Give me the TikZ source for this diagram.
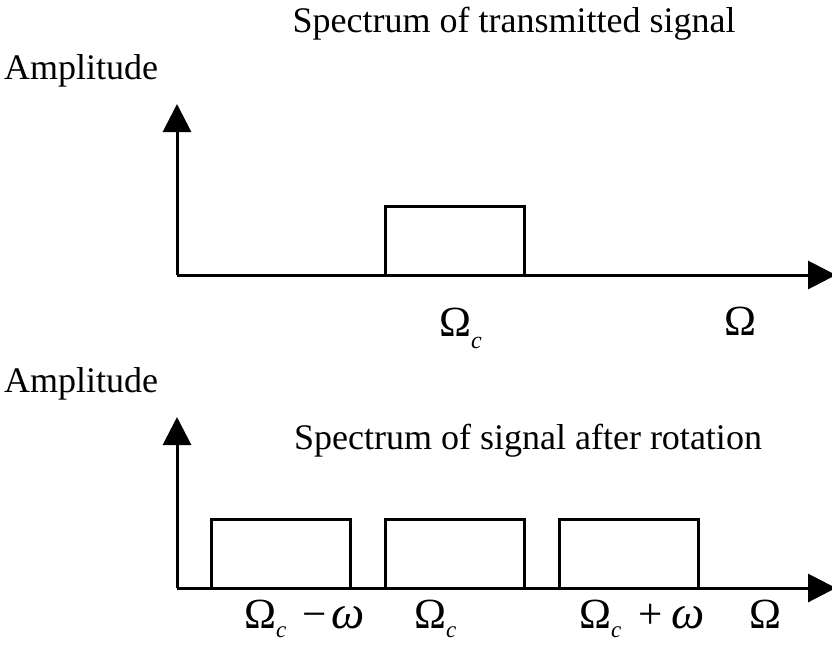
\documentclass[tikz,border=0pt]{standalone}
\usepackage{fontspec}
\setmainfont{Liberation Serif}
\usetikzlibrary{arrows.meta}
\newcommand{\subc}{\raisebox{-0.28em}{\fontsize{24}{26}\selectfont\itshape c}}
\newcommand{\subcb}{\raisebox{-0.22em}{\fontsize{23}{26}\selectfont\itshape c}}
\newcommand{\omg}{{\fontsize{47}{50}\selectfont\itshape ω}}
\begin{document}
\begin{tikzpicture}[x=1pt,y=-1pt,
  ax/.style={line width=3pt,-{Triangle[length=28pt,width=28pt]}},
  band/.style={draw,line width=3pt},
  lbl/.style={font=\fontsize{36}{40}\selectfont,inner sep=0pt},
  sym/.style={font=\fontsize{43}{46}\selectfont,inner sep=0pt}]
\useasboundingbox (0,0) rectangle (832,645);
% top
\node[lbl] (t1) at (514,24) {Spectrum of transmitted signal};
\node[lbl] (a1) at (81,71) {Amplitude};
\coordinate (o1) at (177,275);
\coordinate (y1) at (177,104);
\coordinate (x1) at (836,275);
\draw[ax] (o1) -- (y1);
\draw[ax] (o1) -- (x1);
\draw[band] (385,275) rectangle (524,206);
\node[sym,anchor=base west] (w1) at (439,336) {Ω\subc};
\node[sym,anchor=base west] (W1) at (724,335) {Ω};
% bottom
\node[lbl] (a2) at (81,384) {Amplitude};
\node[lbl] (t2) at (528,441) {Spectrum of signal after rotation};
\coordinate (o2) at (177,588);
\coordinate (y2) at (177,417);
\coordinate (x2) at (836,588);
\draw[ax] (o2) -- (y2);
\draw[ax] (o2) -- (x2);
\draw[band] (211,588) rectangle (350,519);
\draw[band] (385,588) rectangle (524,519);
\draw[band] (559,588) rectangle (698,519);
\node[sym,anchor=base west] (w2) at (244,628) {Ω\subcb\hspace{16pt}−\hspace{5pt}\omg};
\node[sym,anchor=base west] (w3) at (414,628) {Ω\subcb};
\node[sym,anchor=base west] (w4) at (579,628) {Ω\subcb\hspace{17pt}+\hspace{9pt}\omg};
\node[sym,anchor=base west] (W2) at (749,628) {Ω};
\end{tikzpicture}
\end{document}
